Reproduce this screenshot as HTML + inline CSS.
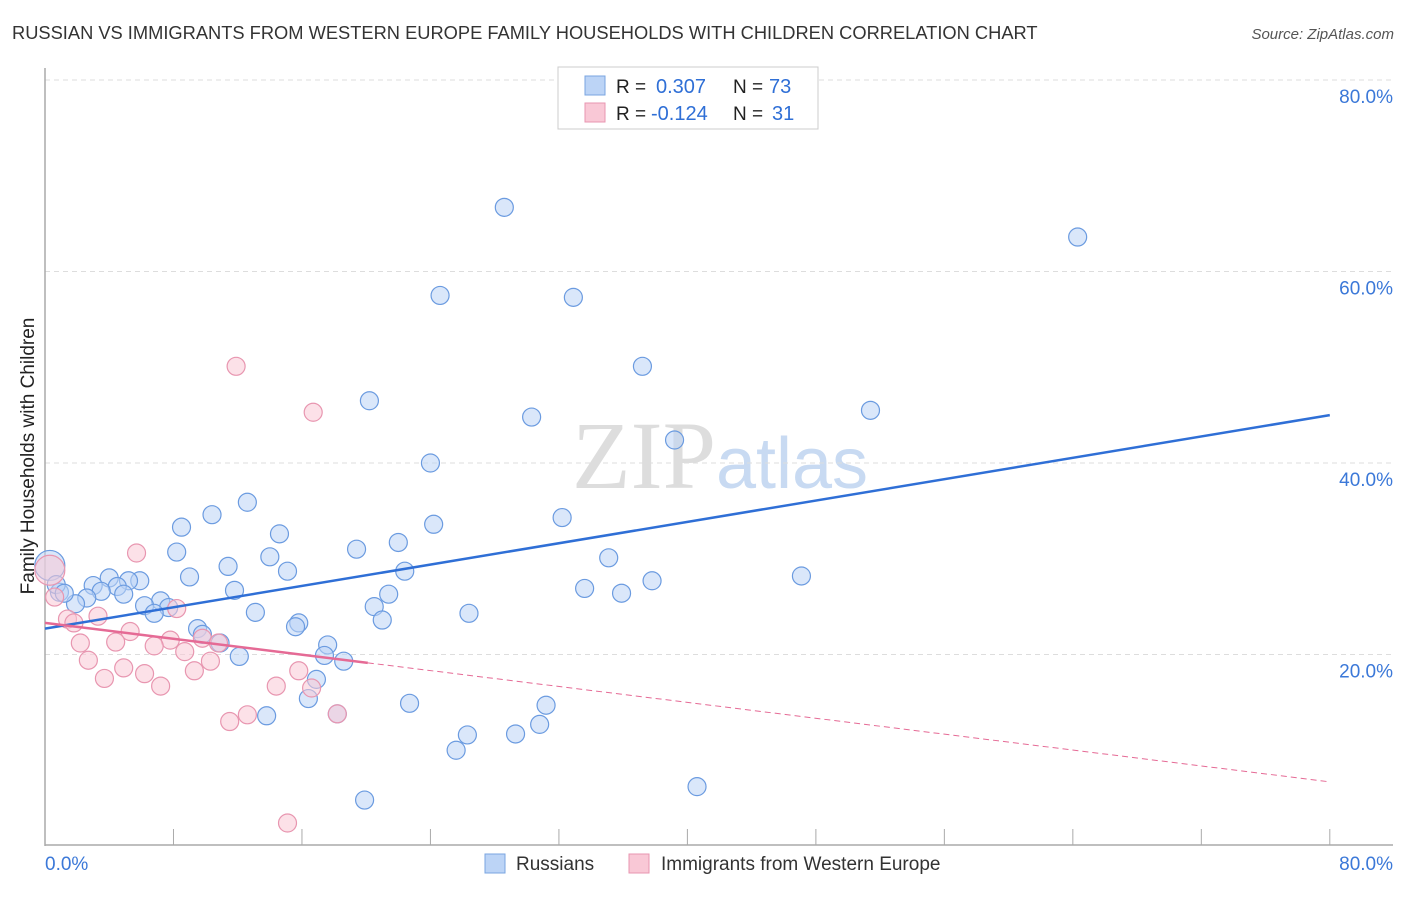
<!DOCTYPE html>
<html><head><meta charset="utf-8"><style>
body{margin:0;background:#fff;font-family:"Liberation Sans",sans-serif}
svg text{font-family:"Liberation Sans",sans-serif}
</style></head><body>
<svg id="chart" width="1406" height="892" xmlns="http://www.w3.org/2000/svg">
<text x="12" y="39" font-size="18.3" fill="#333">RUSSIAN VS IMMIGRANTS FROM WESTERN EUROPE FAMILY HOUSEHOLDS WITH CHILDREN CORRELATION CHART</text>
<text x="1394" y="39" font-size="15" fill="#555" text-anchor="end" font-style="italic">Source: ZipAtlas.com</text>
<text x="720" y="488" font-size="96" text-anchor="middle"><tspan fill="#ddd" font-family="Liberation Serif">ZIP</tspan><tspan fill="#c8daf2" font-size="72">atlas</tspan></text>
<g id="grid"></g><g id="axes"></g><g id="pts"></g><g id="trends"></g>
<text transform="translate(34,456) rotate(-90)" font-size="19" fill="#222" text-anchor="middle">Family Households with Children</text>
<g>
<rect x="558" y="67" width="260" height="62" fill="#fff" stroke="#ccc"/>
<rect x="585" y="76" width="20" height="19" fill="#bcd4f6" stroke="#7aa5e0"/>
<rect x="585" y="103" width="20" height="19" fill="#f9c8d6" stroke="#e896b0"/>
<text x="616" y="93" font-size="19" fill="#222">R =</text>
<text x="656" y="93" font-size="20" fill="#2f6fd6">0.307</text>
<text x="733" y="93" font-size="19" fill="#222">N =</text>
<text x="769" y="93" font-size="20" fill="#2f6fd6">73</text>
<text x="616" y="120" font-size="19" fill="#222">R =</text>
<text x="651" y="120" font-size="20" fill="#2f6fd6">-0.124</text>
<text x="733" y="120" font-size="19" fill="#222">N =</text>
<text x="772" y="120" font-size="20" fill="#2f6fd6">31</text>
</g>
<g>
<rect x="485" y="854" width="20" height="19" fill="#bcd4f6" stroke="#7aa5e0"/>
<text x="516" y="870" font-size="19" fill="#333">Russians</text>
<rect x="629" y="854" width="20" height="19" fill="#f9c8d6" stroke="#e896b0"/>
<text x="661" y="870" font-size="19" fill="#333">Immigrants from Western Europe</text>
</g>
</svg>
<script>
const blueX=[28.6,64.3,24.6,32.9,37.2,20.2,30.3,51.4,39.2,24.0,12.6,10.4,8.5,32.2,24.2,14.6,8.2,19.4,22.0,14.0,35.1,11.4,15.1,22.4,9.0,4.0,5.9,5.2,47.1,37.8,3.0,33.6,11.8,21.4,35.9,4.5,3.5,4.9,0.9,2.6,7.2,6.2,1.9,7.7,6.8,13.1,20.5,26.4,21.0,15.8,15.6,9.5,9.8,10.9,17.6,17.4,12.1,18.6,16.9,16.4,22.7,31.2,13.8,30.8,26.3,29.3,25.6,40.6,19.9,0.3,0.7,1.2,18.2];
const blueY=[66.7,63.6,57.5,57.3,50.1,46.5,44.8,45.5,42.4,40.0,35.9,34.6,33.3,34.3,33.6,32.6,30.7,31.0,31.7,30.2,30.1,29.2,28.7,28.7,28.1,28.0,27.7,27.7,28.2,27.7,27.2,26.9,26.7,26.3,26.4,27.1,26.6,26.3,26.5,25.9,25.6,25.1,25.3,24.9,24.3,24.4,25.0,24.3,23.6,23.3,22.9,22.7,22.1,21.2,21.0,19.9,19.8,19.3,17.4,15.4,14.9,14.7,13.6,12.7,11.6,11.7,10.0,6.2,4.8,29.3,27.3,26.4,13.8];
const pinkX=[11.9,16.7,5.7,8.2,3.3,1.4,1.8,5.3,7.8,2.2,4.4,9.8,6.8,8.7,10.8,2.7,10.3,4.9,9.3,15.8,6.2,3.7,7.2,14.4,16.6,12.6,11.5,18.2,15.1,0.3,0.6];
const pinkY=[50.1,45.3,30.6,24.8,24.0,23.7,23.3,22.4,21.5,21.2,21.3,21.7,20.9,20.3,21.2,19.4,19.3,18.6,18.3,18.3,18.0,17.5,16.7,16.7,16.5,13.7,13.0,13.8,2.4,28.8,26.0];
const blueTrend=[22.7,45.0];
const pinkTrend=[23.3,6.7];
const pinkSolidEnd=20.1;
const yTicks=[20,40,60,80];
const NS='http://www.w3.org/2000/svg';
const X=v=>45+v*16.06, Y=v=>846-v*9.575;
function mk(tag,attrs,parent){const e=document.createElementNS(NS,tag);for(const k in attrs)e.setAttribute(k,attrs[k]);document.getElementById(parent).appendChild(e);return e;}
yTicks.forEach(t=>{
 const l=mk('line',{x1:45,x2:1393,y1:Y(t),y2:Y(t),stroke:'#ddd','stroke-dasharray':'5,4'},'grid');
 
 
 const tx=mk('text',{x:1393,y:Y(t)+23,'font-size':19,fill:'#3b78d8','text-anchor':'end'},'grid');
 tx.textContent=t.toFixed(1)+'%';
 
 
});
let ax=mk('line',{x1:45,x2:45,y1:68,y2:846,stroke:'#aaa','stroke-width':1.5},'axes');


ax=mk('line',{x1:45,x2:1393,y1:845,y2:845,stroke:'#aaa','stroke-width':1.5},'axes');


for(let i=0;i<=10;i++){const v=i*8;const t=mk('line',{x1:X(v),x2:X(v),y1:829,y2:845,stroke:'#aaa'},'axes');
 
 }
[[0,'start',45],[80,'end',1393]].forEach(a=>{const t=mk('text',{x:a[2],y:870,'font-size':19,fill:'#3b78d8','text-anchor':a[1]},'axes');t.textContent=a[0].toFixed(1)+'%';
 
 });
function pts(xs,ys,fill,stroke,name){xs.forEach((x,i)=>{const big=x<0.5;const c=mk('circle',{cx:X(x),cy:Y(ys[i]),r:big?15:9,fill:fill,'fill-opacity':0.55,stroke:stroke,'stroke-width':1.2},'pts');
 
 });}
pts(blueX,blueY,'#bcd4f6','#6b9be0','russians-point');
pts(pinkX,pinkY,'#f9c8d6','#e896b0','immigrants-point');
let ln=mk('line',{x1:X(0),y1:Y(blueTrend[0]),x2:X(80),y2:Y(blueTrend[1]),stroke:'#2f6fd6','stroke-width':2.5},'trends');


const py=v=>pinkTrend[0]+(pinkTrend[1]-pinkTrend[0])*v/80;
ln=mk('line',{x1:X(0),y1:Y(pinkTrend[0]),x2:X(pinkSolidEnd),y2:Y(py(pinkSolidEnd)),stroke:'#e56a95','stroke-width':2.5},'trends');


ln=mk('line',{x1:X(pinkSolidEnd),y1:Y(py(pinkSolidEnd)),x2:X(80),y2:Y(pinkTrend[1]),stroke:'#e56a95','stroke-width':1,'stroke-dasharray':'6,4'},'trends');


</script>
</body></html>
